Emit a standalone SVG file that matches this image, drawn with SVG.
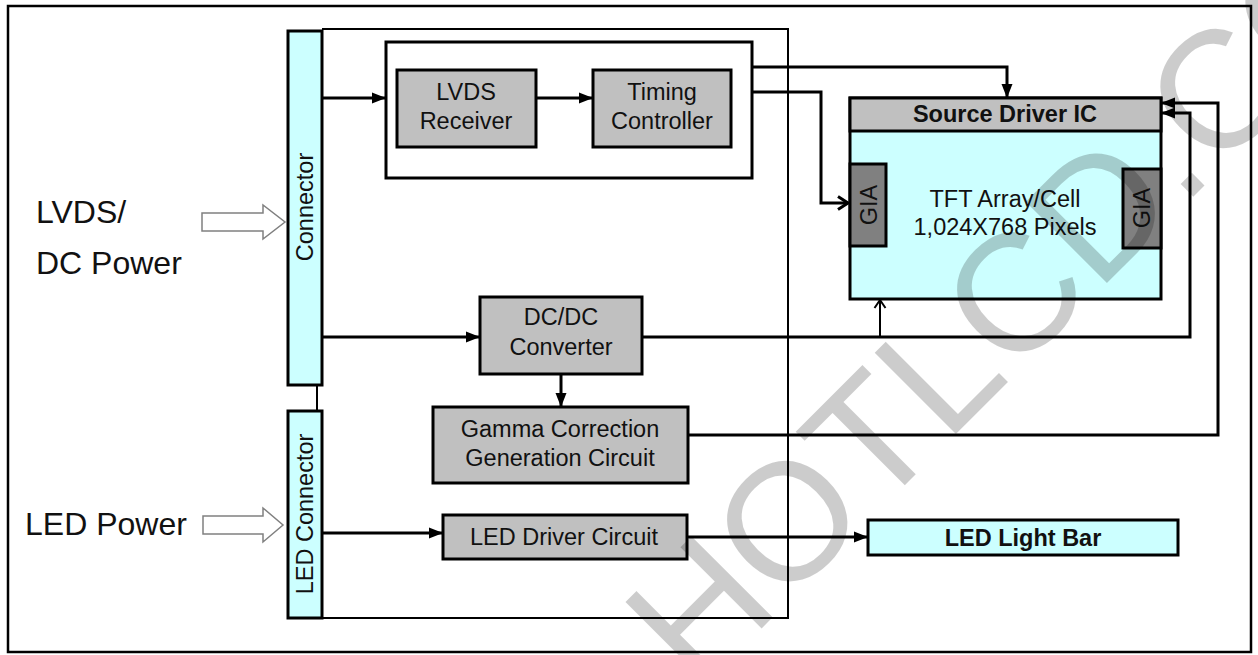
<svg xmlns="http://www.w3.org/2000/svg" width="1258" height="655" viewBox="0 0 1258 655">
<defs>
<style>
.t{font-family:"Liberation Sans",Arial,sans-serif;font-size:23.5px;fill:#111;text-anchor:middle}
.b{font-weight:bold}
.big{font-family:"Liberation Sans",Arial,sans-serif;font-size:32px;fill:#111}
.box{stroke:#000;stroke-width:3}
.gray{fill:#c0c0c0}
.cyan{fill:#ccffff}
.dark{fill:#808080}
.w{fill:#fff}
.ln{fill:none;stroke:#000;stroke-width:3}
.thin{fill:none;stroke:#000;stroke-width:2}
.hollow{fill:#fff;stroke:#808080;stroke-width:1.5}
.wm{font-family:"Liberation Sans",Arial,sans-serif;font-size:167px;fill:#000;fill-opacity:0.2}
</style>
<marker id="ah" markerUnits="userSpaceOnUse" markerWidth="14" markerHeight="12" refX="13" refY="6" orient="auto">
<path d="M0,0.5 L14,6 L0,11.5 z" fill="#000"/>
</marker>
<marker id="oh" markerUnits="userSpaceOnUse" markerWidth="14" markerHeight="16" refX="11" refY="8" orient="auto">
<path d="M1,1.5 L11,8 L1,14.5" fill="none" stroke="#000" stroke-width="3"/>
</marker>
<marker id="ot" markerUnits="userSpaceOnUse" markerWidth="12" markerHeight="14" refX="9" refY="7" orient="auto">
<path d="M1,1.5 L9,7 L1,12.5" fill="none" stroke="#000" stroke-width="2"/>
</marker>
</defs>
<rect x="0" y="0" width="1258" height="655" fill="#fff"/>
<rect x="8" y="6" width="1243" height="646" fill="none" stroke="#000" stroke-width="2.5"/>

<g id="inputs">
<text class="big" x="36" y="223">LVDS/</text>
<text class="big" x="36" y="274">DC Power</text>
<text class="big" x="25" y="535">LED Power</text>
<path class="hollow" d="M202,213 L263,213 L263,205 L285,222 L263,239 L263,231 L202,231 z"/>
<path class="hollow" d="M203,516 L263,516 L263,508 L283,525 L263,542 L263,534 L203,534 z"/>
</g>

<g id="connector">
<rect class="box cyan" x="288" y="31" width="34" height="354"/>
<text class="t" transform="translate(305,207) rotate(-90)" dy="0.35em">Connector</text>
</g>

<g id="led-connector">
<rect class="box cyan" x="288" y="411" width="34" height="207"/>
<text class="t" transform="translate(305,514) rotate(-90)" dy="0.35em">LED Connector</text>
</g>

<g id="lvds-tcon-group">
<rect class="box w" x="386" y="42" width="366" height="136"/>
</g>

<g id="lvds-receiver">
<rect class="box gray" x="397" y="70" width="139" height="77"/>
<text class="t" x="466" y="100">LVDS</text>
<text class="t" x="466" y="129">Receiver</text>
</g>

<g id="timing-controller">
<rect class="box gray" x="593" y="70" width="138" height="77"/>
<text class="t" x="662" y="100">Timing</text>
<text class="t" x="662" y="129">Controller</text>
</g>

<g id="panel">
<rect class="box cyan" x="850" y="98" width="311" height="201"/>
<rect class="box gray" x="850" y="98" width="311" height="33"/>
<text class="t b" x="1005" y="122">Source Driver IC</text>
<text class="t" x="1005" y="207">TFT Array/Cell</text>
<text class="t" x="1005" y="235">1,024X768 Pixels</text>
</g>

<g id="gia-left">
<rect class="box dark" x="850" y="164" width="36" height="82"/>
<text class="t" transform="translate(869,205) rotate(-90)" dy="0.35em">GIA</text>
</g>

<g id="gia-right">
<rect class="box dark" x="1123" y="169" width="38" height="79"/>
<text class="t" transform="translate(1142,208) rotate(-90)" dy="0.35em">GIA</text>
</g>

<g id="dcdc">
<rect class="box gray" x="480" y="297" width="162" height="77"/>
<text class="t" x="561" y="325">DC/DC</text>
<text class="t" x="561" y="355">Converter</text>
</g>

<g id="gamma">
<rect class="box gray" x="433" y="407" width="255" height="76"/>
<text class="t" x="560" y="437">Gamma Correction</text>
<text class="t" x="560" y="466">Generation Circuit</text>
</g>

<g id="led-driver">
<rect class="box gray" x="443" y="515" width="244" height="44"/>
<text class="t" x="564" y="545">LED Driver Circuit</text>
</g>

<g id="led-light-bar">
<rect class="box cyan" x="868" y="520" width="310" height="35"/>
<text class="t b" x="1023" y="546">LED Light Bar</text>
</g>

<g id="connectors">
<path class="thin" d="M322,29 L788,29 L788,618 L322,618"/>
<path class="thin" d="M317,386 L317,410"/>
<path class="ln" d="M323,98 L385,98" marker-end="url(#ah)"/>
<path class="ln" d="M537,98 L592,98" marker-end="url(#ah)"/>
<path class="ln" d="M753,67 L1007,67 L1007,97" marker-end="url(#ah)"/>
<path class="ln" d="M753,92 L821,92 L821,203 L848,203" marker-end="url(#oh)"/>
<path class="ln" d="M323,337 L479,337" marker-end="url(#ah)"/>
<path class="ln" d="M643,337 L1190,337 L1190,113 L1162,113" marker-end="url(#ah)"/>
<path class="thin" d="M880,337 L880,300" marker-end="url(#ot)"/>
<path class="ln" d="M561,375 L561,406" marker-end="url(#ah)"/>
<path class="ln" d="M689,435 L1218,435 L1218,103 L1162,103" marker-end="url(#ah)"/>
<path class="ln" d="M323,533 L442,533" marker-end="url(#ah)"/>
<path class="ln" d="M688,537 L867,537" marker-end="url(#ah)"/>
</g>

<text class="wm" transform="translate(697,693) rotate(-45)">HOTLCD.COM</text>
</svg>
